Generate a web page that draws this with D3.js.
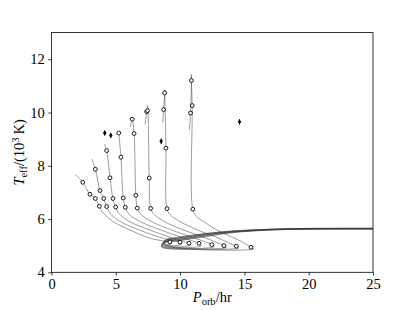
<!DOCTYPE html>
<html lang="en">
<head>
<meta charset="UTF-8">
<title>Teff vs Porb</title>
<script src="https://d3js.org/d3.v7.min.js"></script>
<style>
  body { margin: 0; background: #fff; }
  svg, svg text { font-family: "Liberation Serif", "Times New Roman", serif; }
</style>
</head>
<body>
<svg width="415" height="311"></svg>
<script>
const xTicks = [0, 5, 10, 15, 20, 25];
const yTicks = [4, 6, 8, 10, 12];

// evolution tracks, [P_orb (hr), Teff (10^3 K)]
const track1 = [[1.85,7.68],[2.43,7.38],[2.99,6.93],[3.41,6.77],[3.72,6.48],[4.03,6.22],[4.81,5.90],[6.10,5.59],[7.66,5.28],[8.67,5.18],[9.21,5.14],
  [9.36,5.09],[9.1,5.04],[8.8,5.07],[8.72,5.14],[8.95,5.24],[10,5.33],[12,5.46],[14,5.55],[17,5.62],[20,5.65],[26,5.655]];
const track2 = [[3.13,8.25],[3.41,7.87],[3.77,7.07],[4.06,6.77],[4.29,6.47],[4.55,6.22],[5.3,5.92],[6.6,5.63],[8.2,5.35],[9.3,5.2],[9.99,5.13],
  [10.15,5.07],[9.8,5.01],[9.0,5.02],[8.68,5.11],[8.92,5.22],[10,5.31],[12,5.45],[14,5.545],[17,5.615],[20,5.645],[26,5.65]];
const track3 = [[4.11,8.82],[4.29,8.57],[4.55,7.55],[4.78,6.77],[4.99,6.45],[5.25,6.2],[6.0,5.92],[7.3,5.65],[8.9,5.37],[10.0,5.18],[10.69,5.09],
  [10.85,5.02],[10.4,4.97],[9.3,4.97],[8.65,5.08],[8.9,5.2],[10,5.29],[12,5.43],[14,5.535],[17,5.61],[20,5.64],[26,5.645]];
const track4 = [[5.23,9.23],[5.40,8.32],[5.58,6.79],[5.74,6.44],[6.0,6.2],[6.8,5.93],[8.1,5.66],[9.7,5.38],[10.8,5.2],[11.47,5.09],
  [11.65,5.0],[11.1,4.94],[9.6,4.94],[8.62,5.05],[8.88,5.18],[10,5.27],[12,5.42],[14,5.525],[17,5.605],[20,5.635],[26,5.64]];
const track5 = [[6.12,9.45],[6.28,9.75],[6.42,9.21],[6.56,6.89],[6.67,6.41],[6.95,6.18],[7.7,5.92],[9.0,5.65],[10.6,5.37],[11.8,5.17],[12.46,5.04],
  [12.65,4.96],[12,4.91],[10,4.91],[8.6,5.02],[8.86,5.16],[10,5.25],[12,5.4],[14,5.515],[17,5.6],[20,5.63],[26,5.635]];
const track6 = [[7.28,9.55],[7.40,10.03],[7.47,10.25],[7.60,7.54],[7.71,6.40],[8.0,6.16],[8.8,5.9],[10.1,5.62],[11.7,5.34],[12.8,5.13],[13.41,5.00],
  [13.6,4.93],[12.9,4.89],[10.5,4.89],[8.58,4.99],[8.84,5.14],[10,5.23],[12,5.38],[14,5.505],[17,5.595],[20,5.625],[26,5.63]];
const track7 = [[8.65,9.6],[8.72,10.11],[8.80,10.74],[8.80,10.85],[8.90,8.66],[8.98,6.39],[9.25,6.15],[10.0,5.9],[11.3,5.6],[12.9,5.3],[13.8,5.1],[14.37,4.98],
  [14.55,4.91],[13.8,4.87],[11,4.87],[8.56,4.97],[8.82,5.12],[10,5.21],[12,5.36],[14,5.495],[17,5.59],[20,5.62],[26,5.625]];
const track8 = [[10.72,9.35],[10.81,9.98],[10.88,11.20],[10.86,11.42],[10.94,10.26],[10.99,6.37],[11.29,6.09],[12.0,5.85],[12.85,5.59],[14.0,5.33],[14.9,5.12],[15.51,4.94],
  [15.72,4.88],[15,4.84],[11.5,4.85],[8.54,4.95],[8.8,5.1],[10,5.19],[12,5.34],[14,5.485],[17,5.585],[20,5.615],[26,5.62]];
const tracks = [track1, track2, track3, track4, track5, track6, track7, track8];

// open circle markers along the tracks
const marks = [
  [2.43,7.38],[2.99,6.93],[3.41,6.77],[3.72,6.48],[9.21,5.14],
  [3.41,7.87],[3.77,7.07],[4.06,6.77],[4.29,6.47],[9.99,5.13],
  [4.29,8.57],[4.55,7.55],[4.78,6.77],[4.99,6.45],[10.69,5.09],
  [5.23,9.23],[5.40,8.32],[5.58,6.79],[5.74,6.44],[11.47,5.09],
  [6.28,9.75],[6.42,9.21],[6.56,6.89],[6.67,6.41],[12.46,5.04],
  [7.40,10.03],[7.47,10.07],[7.60,7.54],[7.71,6.40],[13.41,5.00],
  [8.80,10.74],[8.72,10.11],[8.90,8.66],[8.98,6.39],[14.37,4.98],
  [10.88,11.20],[10.94,10.26],[10.81,9.98],[10.99,6.37],[15.51,4.94]
];

// observed systems
const obsP = [4.14, 4.61, 8.53, 14.62];
const obsT = [9.23, 9.14, 8.92, 9.65];
const obsErr = [0.1, 0.1, 0.1, 0.1];

const margin = { top: 32.6, right: 42, bottom: 38.7, left: 51.5 },
      width = 415 - margin.left - margin.right,
      height = 311 - margin.top - margin.bottom;

const svg = d3.select('svg');
const g = svg.append('g').attr('transform', `translate(${margin.left},${margin.top})`);

const x = d3.scaleLinear().domain([0, 25]).range([0, width]);
const y = d3.scaleLinear().domain([4, 13]).range([height, 0]);

g.append('clipPath').attr('id', 'clip')
  .append('rect').attr('width', width).attr('height', height);

const plot = g.append('g').attr('clip-path', 'url(#clip)');

const line = d3.line()
  .x(d => x(d[0]))
  .y(d => y(d[1]))
  .curve(d3.curveCatmullRom.alpha(0.5));

plot.selectAll('.track')
  .data(tracks)
  .enter()
  .append('path')
  .attr('class', 'track')
  .attr('fill', 'none')
  .attr('stroke', '#3a3a3a')
  .attr('stroke-width', 0.5)
  .attr('d', line);

plot.selectAll('.mark')
  .data(marks)
  .enter()
  .append('circle')
  .attr('cx', d => x(d[0]))
  .attr('cy', d => y(d[1]))
  .attr('r', 1.9)
  .attr('fill', '#fff')
  .attr('stroke', '#000')
  .attr('stroke-width', 0.9);

// observed points with error bars
obsP.forEach((p, i) => {
  plot.append('line')
    .attr('x1', x(p)).attr('x2', x(p))
    .attr('y1', y(obsT[i] - obsErr[i])).attr('y2', y(obsT[i] + obsErr[i]))
    .attr('stroke', '#000').attr('stroke-width', 1);
  const cx = x(p), cy = y(obsT[i]);
  plot.append('path')
    .attr('d', `M${cx},${cy - 2.4}L${cx + 1.8},${cy}L${cx},${cy + 2.4}L${cx - 1.8},${cy}Z`)
    .attr('fill', '#000');
});

// frame
g.append('rect')
  .attr('width', width).attr('height', height)
  .attr('fill', 'none').attr('stroke', '#000').attr('stroke-width', 0.8);

const serif = '"Liberation Serif", "Times New Roman", serif';

const xAxis = g.append('g')
  .attr('transform', `translate(0,${height})`)
  .call(d3.axisBottom(x).tickValues(xTicks).tickSize(3.2).tickPadding(3.5).tickFormat(d3.format('d')));
const yAxis = g.append('g')
  .call(d3.axisLeft(y).tickValues(yTicks).tickSize(3.2).tickPadding(3.5).tickFormat(d3.format('d')));

[xAxis, yAxis].forEach(a => {
  a.attr('font-family', serif).attr('font-size', 14.5);
  a.select('.domain').remove();
  a.selectAll('line').attr('stroke', '#000').attr('stroke-width', 0.8);
  a.selectAll('text').attr('fill', '#000');
});

// axis labels
const xl = svg.append('text')
  .attr('x', margin.left + width / 2)
  .attr('y', 302)
  .attr('text-anchor', 'middle')
  .attr('font-family', serif)
  .attr('font-size', 14.5);
xl.append('tspan').attr('font-style', 'italic').text('P');
xl.append('tspan').attr('dy', 3).attr('font-size', 10.5).text('orb');
xl.append('tspan').attr('dy', -3).text('/hr');

const yl = svg.append('text')
  .attr('transform', `translate(24,${margin.top + height / 2}) rotate(-90)`)
  .attr('text-anchor', 'middle')
  .attr('font-family', serif)
  .attr('font-size', 14.5);
yl.append('tspan').attr('font-style', 'italic').text('T');
yl.append('tspan').attr('dy', 3).attr('font-size', 10.5).text('eff');
yl.append('tspan').attr('dy', -3).text('/(10');
yl.append('tspan').attr('dy', -5).attr('font-size', 10.5).text('3');
yl.append('tspan').attr('dy', 5).text('\u2009K)');
</script>
</body>
</html>
